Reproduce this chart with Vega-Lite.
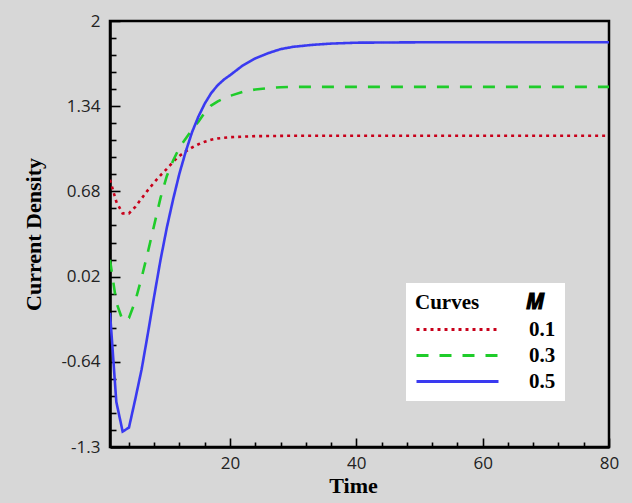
{
  "$schema": "https://vega.github.io/schema/vega-lite/v6.json",
  "width": 499,
  "height": 426,
  "autosize": "none",
  "padding": {"left": 110, "top": 21, "right": 23, "bottom": 56},
  "background": "#d7d7d7",
  "config": {
    "view": {"stroke": "#000000", "strokeWidth": 2.5},
    "axis": {
      "domainColor": "#000000",
      "domainWidth": 2.5,
      "tickColor": "#000000",
      "tickWidth": 1.6,
      "grid": false,
      "labelFont": "Open Sans",
      "labelFontSize": 17,
      "labelColor": "#222222",
      "titleFont": "Liberation Serif",
      "titleFontSize": 22,
      "titleFontWeight": "bold",
      "titleColor": "#000000"
    },
    "legend": {
      "orient": "none",
      "legendX": 296,
      "legendY": 262,
      "fillColor": "#ffffff",
      "padding": 9,
      "symbolType": "stroke",
      "symbolSize": 6724,
      "symbolStrokeWidth": 3,
      "clipHeight": 21,
      "labelOffset": 29,
      "labelFont": "Liberation Serif",
      "labelFontWeight": "bold",
      "labelFontSize": 21,
      "labelColor": "#000000",
      "titleFont": "Liberation Serif",
      "titleFontSize": 21,
      "titleFontWeight": "bold",
      "titleColor": "#000000",
      "titlePadding": 6,
      "rowPadding": 4
    }
  },
  "data": {
    "values": [
      {"Time": 1, "Density": 0.77, "M": "0.1"},
      {"Time": 2, "Density": 0.6, "M": "0.1"},
      {"Time": 3, "Density": 0.51, "M": "0.1"},
      {"Time": 4, "Density": 0.51, "M": "0.1"},
      {"Time": 5, "Density": 0.56, "M": "0.1"},
      {"Time": 6, "Density": 0.625, "M": "0.1"},
      {"Time": 7, "Density": 0.69, "M": "0.1"},
      {"Time": 8, "Density": 0.75, "M": "0.1"},
      {"Time": 9, "Density": 0.805, "M": "0.1"},
      {"Time": 10, "Density": 0.855, "M": "0.1"},
      {"Time": 11, "Density": 0.91, "M": "0.1"},
      {"Time": 12, "Density": 0.955, "M": "0.1"},
      {"Time": 13, "Density": 0.99, "M": "0.1"},
      {"Time": 14, "Density": 1.02, "M": "0.1"},
      {"Time": 15, "Density": 1.045, "M": "0.1"},
      {"Time": 16, "Density": 1.065, "M": "0.1"},
      {"Time": 17, "Density": 1.08, "M": "0.1"},
      {"Time": 18, "Density": 1.09, "M": "0.1"},
      {"Time": 20, "Density": 1.1, "M": "0.1"},
      {"Time": 24, "Density": 1.108, "M": "0.1"},
      {"Time": 30, "Density": 1.111, "M": "0.1"},
      {"Time": 80, "Density": 1.111, "M": "0.1"},

      {"Time": 1, "Density": 0.15, "M": "0.3"},
      {"Time": 2, "Density": -0.18, "M": "0.3"},
      {"Time": 3, "Density": -0.32, "M": "0.3"},
      {"Time": 4, "Density": -0.3, "M": "0.3"},
      {"Time": 5, "Density": -0.17, "M": "0.3"},
      {"Time": 6, "Density": 0.01, "M": "0.3"},
      {"Time": 7, "Density": 0.21, "M": "0.3"},
      {"Time": 8, "Density": 0.42, "M": "0.3"},
      {"Time": 9, "Density": 0.63, "M": "0.3"},
      {"Time": 10, "Density": 0.8, "M": "0.3"},
      {"Time": 11, "Density": 0.92, "M": "0.3"},
      {"Time": 12, "Density": 1.02, "M": "0.3"},
      {"Time": 13, "Density": 1.09, "M": "0.3"},
      {"Time": 14, "Density": 1.16, "M": "0.3"},
      {"Time": 15, "Density": 1.22, "M": "0.3"},
      {"Time": 16, "Density": 1.29, "M": "0.3"},
      {"Time": 17, "Density": 1.345, "M": "0.3"},
      {"Time": 18, "Density": 1.375, "M": "0.3"},
      {"Time": 19, "Density": 1.4, "M": "0.3"},
      {"Time": 20, "Density": 1.42, "M": "0.3"},
      {"Time": 22, "Density": 1.45, "M": "0.3"},
      {"Time": 24, "Density": 1.47, "M": "0.3"},
      {"Time": 26, "Density": 1.48, "M": "0.3"},
      {"Time": 28, "Density": 1.487, "M": "0.3"},
      {"Time": 30, "Density": 1.49, "M": "0.3"},
      {"Time": 80, "Density": 1.49, "M": "0.3"},

      {"Time": 1, "Density": -0.26, "M": "0.5"},
      {"Time": 2, "Density": -0.95, "M": "0.5"},
      {"Time": 3, "Density": -1.18, "M": "0.5"},
      {"Time": 4, "Density": -1.15, "M": "0.5"},
      {"Time": 5, "Density": -0.93, "M": "0.5"},
      {"Time": 6, "Density": -0.7, "M": "0.5"},
      {"Time": 7, "Density": -0.42, "M": "0.5"},
      {"Time": 8, "Density": -0.13, "M": "0.5"},
      {"Time": 9, "Density": 0.15, "M": "0.5"},
      {"Time": 10, "Density": 0.4, "M": "0.5"},
      {"Time": 11, "Density": 0.62, "M": "0.5"},
      {"Time": 12, "Density": 0.82, "M": "0.5"},
      {"Time": 13, "Density": 0.99, "M": "0.5"},
      {"Time": 14, "Density": 1.14, "M": "0.5"},
      {"Time": 15, "Density": 1.26, "M": "0.5"},
      {"Time": 16, "Density": 1.36, "M": "0.5"},
      {"Time": 17, "Density": 1.44, "M": "0.5"},
      {"Time": 18, "Density": 1.5, "M": "0.5"},
      {"Time": 19, "Density": 1.545, "M": "0.5"},
      {"Time": 20, "Density": 1.58, "M": "0.5"},
      {"Time": 22, "Density": 1.655, "M": "0.5"},
      {"Time": 24, "Density": 1.71, "M": "0.5"},
      {"Time": 26, "Density": 1.75, "M": "0.5"},
      {"Time": 28, "Density": 1.782, "M": "0.5"},
      {"Time": 30, "Density": 1.8, "M": "0.5"},
      {"Time": 33, "Density": 1.815, "M": "0.5"},
      {"Time": 36, "Density": 1.825, "M": "0.5"},
      {"Time": 40, "Density": 1.832, "M": "0.5"},
      {"Time": 50, "Density": 1.835, "M": "0.5"},
      {"Time": 80, "Density": 1.835, "M": "0.5"}
    ]
  },
  "mark": {"type": "line", "strokeWidth": 2.6, "clip": true},
  "encoding": {
    "x": {
      "field": "Time",
      "type": "quantitative",
      "scale": {"domain": [1, 80], "nice": false, "zero": false},
      "axis": {
        "title": "Time",
        "titleX": 243,
        "titleY": 38,
        "titleBaseline": "middle",
        "titleAlign": "center",
        "values": [4, 8, 12, 16, 20, 24, 28, 32, 36, 40, 44, 48, 52, 56, 60, 64, 68, 72, 76, 80],
        "labelExpr": "datum.value % 20 === 0 ? '' + datum.value : ''",
        "tickSize": {"condition": {"test": "datum.value % 20 === 0", "value": -9}, "value": -5},
        "labelPadding": 17,
        "labelFlush": false,
        "labelOverlap": false
      }
    },
    "y": {
      "field": "Density",
      "type": "quantitative",
      "scale": {"domain": [-1.3, 2], "nice": false, "zero": false},
      "axis": {
        "title": "Current Density",
        "titleX": -77,
        "titleY": 213,
        "titleBaseline": "middle",
        "titleAlign": "center",
        "values": [-1.3, -1.168, -1.036, -0.904, -0.772, -0.64, -0.508, -0.376, -0.244, -0.112, 0.02, 0.152, 0.284, 0.416, 0.548, 0.68, 0.812, 0.944, 1.076, 1.208, 1.34, 1.472, 1.604, 1.736, 1.868, 2],
        "labelExpr": "indexof([-1.3, -0.64, 0.02, 0.68, 1.34, 2], datum.value) >= 0 ? '' + datum.value : ''",
        "tickSize": {"condition": {"test": "indexof([-1.3, -0.64, 0.02, 0.68, 1.34, 2], datum.value) >= 0", "value": -10}, "value": -6},
        "labelPadding": 20,
        "labelFlush": false,
        "labelOverlap": false
      }
    },
    "color": {
      "field": "M",
      "type": "nominal",
      "scale": {"domain": ["0.1", "0.3", "0.5"], "range": ["#c8001a", "#1fcc2a", "#3a3af0"]},
      "legend": {"title": "Curves\u00a0\u00a0\u00a0\u00a0\u00a0\u00a0\u00a0\u00a0\u00a0\ud835\udc74\u00a0\u00a0\u00a0"}
    },
    "strokeDash": {
      "field": "M",
      "type": "nominal",
      "scale": {"domain": ["0.1", "0.3", "0.5"], "range": [[3, 4], [12, 11], [1, 0]]},
      "legend": {"title": "Curves\u00a0\u00a0\u00a0\u00a0\u00a0\u00a0\u00a0\u00a0\u00a0\ud835\udc74\u00a0\u00a0\u00a0"}
    }
  }
}
